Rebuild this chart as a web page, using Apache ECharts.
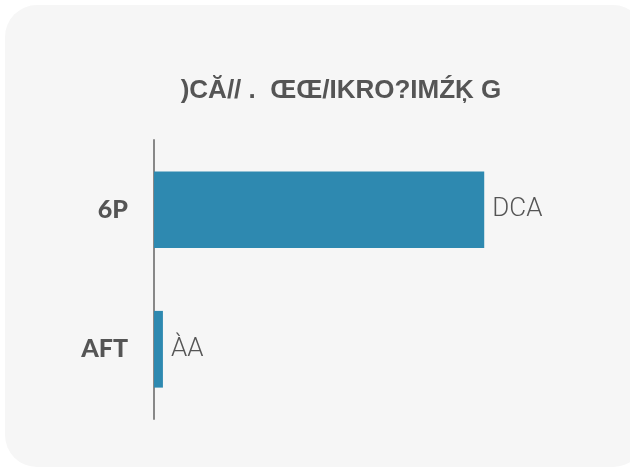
<!DOCTYPE html>
<html>
<head>
<meta charset="utf-8">
<script src="https://cdn.jsdelivr.net/npm/echarts@6/dist/echarts.min.js"></script>
<style>
  html, body { margin: 0; padding: 0; background: #ffffff; }
  #card {
    position: absolute; left: 5px; top: 5px; width: 640px; height: 462px;
    background: #f6f6f6; border-radius: 32px;
  }
  #chart { position: absolute; left: 0; top: 0; width: 630px; height: 472px; }
</style>
</head>
<body>
<div id="card"></div>
<div id="chart"></div>
<script>
// data
const titleText = ')CĂ// .  ŒŒ/IKRO?IMŹĶ G';
const categories = ['AFT', '6P'];
const values = [1, 37];
const valueLabels = ['ÀA', 'DCA'];

const chartDom = document.getElementById('chart');
const myChart = echarts.init(chartDom);

const option = {
    title: {
        text: titleText,
        left: 336,
        textAlign: 'center',
        top: 73,
        textStyle: {
            color: '#555555',
            fontSize: 26,
            fontWeight: 'bold',
            fontFamily: 'Liberation Sans'
        }
    },
    grid: {
        left: 154,
        right: 119,
        top: 140,
        bottom: 53
    },
    xAxis: {
        type: 'value',
        min: 0,
        max: 40,
        show: false
    },
    yAxis: {
        type: 'category',
        data: categories,
        axisLine: { lineStyle: { color: '#888888', width: 2 } },
        axisTick: { show: false },
        axisLabel: {
            color: '#555555',
            fontSize: 25,
            fontWeight: 900,
            fontFamily: 'Lato',
            margin: 26
        }
    },
    series: [
        {
            type: 'bar',
            barWidth: '55%',
            data: values,
            itemStyle: { color: '#2e89b0' },
            label: {
                show: true,
                position: 'right',
                distance: 8,
                color: '#555555',
                fontSize: 26,
                fontFamily: 'Roboto',
                fontWeight: 300,
                formatter: (params) => valueLabels[params.dataIndex]
            }
        }
    ],
    animation: false
};

option && myChart.setOption(option);
</script>
</body>
</html>
